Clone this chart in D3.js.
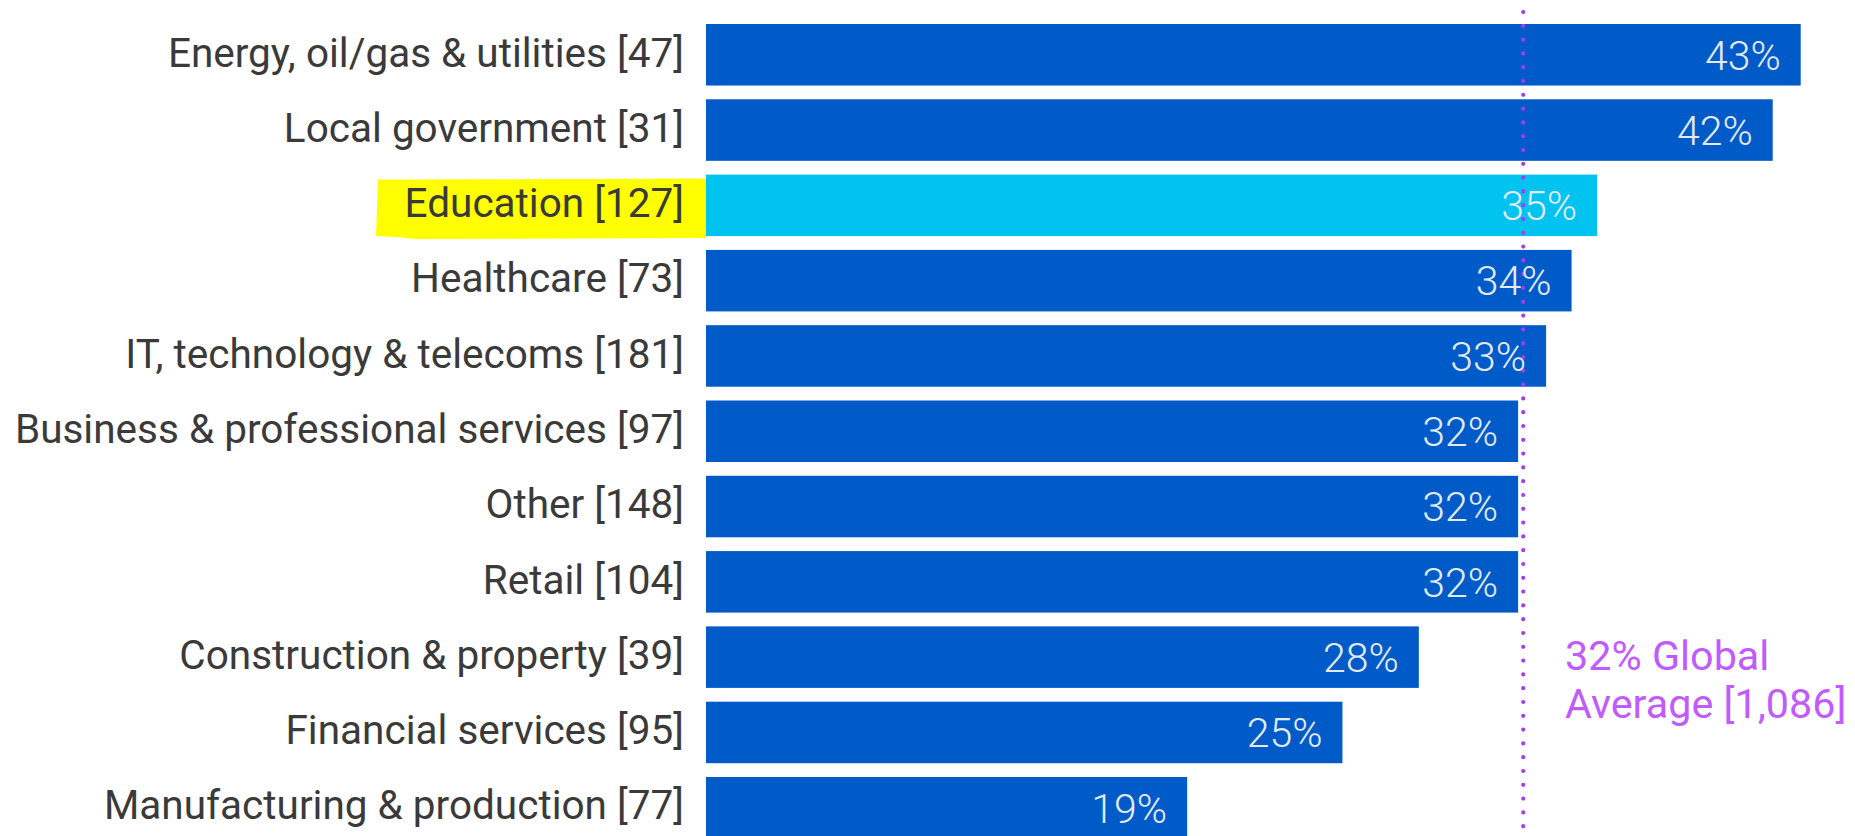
<!DOCTYPE html>
<html>
<head>
<meta charset="utf-8">
<script src="https://cdn.jsdelivr.net/npm/d3@7"></script>
<style>
  html, body { margin: 0; padding: 0; background: #ffffff; }
  svg { display: block; }
  text { font-family: Roboto, "Noto Sans", sans-serif; }
</style>
</head>
<body>
<svg id="chart" width="1855" height="836"></svg>
<script>
// ---- data ----
const categories = [
  "Energy, oil/gas & utilities [47]",
  "Local government [31]",
  "Education [127]",
  "Healthcare [73]",
  "IT, technology & telecoms [181]",
  "Business & professional services [97]",
  "Other [148]",
  "Retail [104]",
  "Construction & property [39]",
  "Financial services [95]",
  "Manufacturing & production [77]"
];
const values = [43, 41.9, 35, 34, 33, 31.9, 31.9, 31.9, 28, 25, 18.9];
const highlighted = ["Education [127]"];
const globalAverage = 32.1;
const averageLabel = ["32% Global", "Average [1,086]"];

// ---- layout ----
const svg = d3.select("#chart");
const x = d3.scaleLinear().domain([0, 43]).range([706, 1800.7]);
const y = d3.scaleBand().domain(categories).range([24, 838.5]).paddingInner(0.183).paddingOuter(0);

const barColor = "#005AC8";
const hiColor = "#00C3F0";

// highlighter behind the Education label
highlighted.forEach(c => {
  const y0 = y(c) + 5, y1 = y(c) + y.bandwidth() + 2;
  const xl = 376, xr = x(0);
  const p = d3.path();
  p.moveTo(xl + 2, y0);
  p.lineTo(xr, y0 - 1);
  p.lineTo(xr, y1);
  p.lineTo(xl + 40, y1 + 1);
  p.lineTo(xl + 20, y1 - 1);
  p.lineTo(xl, y1 - 2);
  p.closePath();
  svg.append("path").attr("d", p.toString()).attr("fill", "#FFFF00");
});

// bars
svg.append("g").selectAll("rect")
  .data(categories)
  .join("rect")
  .attr("x", x(0))
  .attr("y", d => y(d))
  .attr("width", (d, i) => x(values[i]) - x(0))
  .attr("height", y.bandwidth())
  .attr("fill", d => highlighted.includes(d) ? hiColor : barColor);

// category labels
svg.append("g").selectAll("text")
  .data(categories)
  .join("text")
  .attr("x", x(0) - 22)
  .attr("y", d => y(d) + y.bandwidth() / 2)
  .attr("dy", "0.29em")
  .attr("text-anchor", "end")
  .attr("font-size", 40.5)
  .attr("font-weight", 400)
  .attr("fill", "#3a3a3a")
  .text(d => d);

// dotted global average line
svg.append("line")
  .attr("x1", x(globalAverage)).attr("x2", x(globalAverage))
  .attr("y1", 12).attr("y2", 836)
  .attr("stroke", "#A43CF4")
  .attr("stroke-width", 4.2)
  .attr("stroke-linecap", "round")
  .attr("stroke-dasharray", "0 13.8");

// value labels
svg.append("g").selectAll("text")
  .data(categories)
  .join("text")
  .attr("x", (d, i) => x(values[i]) - 20)
  .attr("y", d => y(d) + y.bandwidth() / 2)
  .attr("dy", "0.36em")
  .attr("text-anchor", "end")
  .attr("font-size", 41)
  .attr("font-weight", 300)
  .attr("fill", "#E2EAF7")
  .text((d, i) => d3.format(".0f")(values[i]) + "%");

// average annotation
svg.append("text")
  .attr("x", 1565)
  .attr("y", 670)
  .attr("font-size", 41.3)
  .attr("font-weight", 400)
  .attr("fill", "#C25BFF")
  .selectAll("tspan")
  .data(averageLabel)
  .join("tspan")
  .attr("x", 1565)
  .attr("dy", (d, i) => i === 0 ? 0 : 48)
  .text(d => d);
</script>
</body>
</html>
